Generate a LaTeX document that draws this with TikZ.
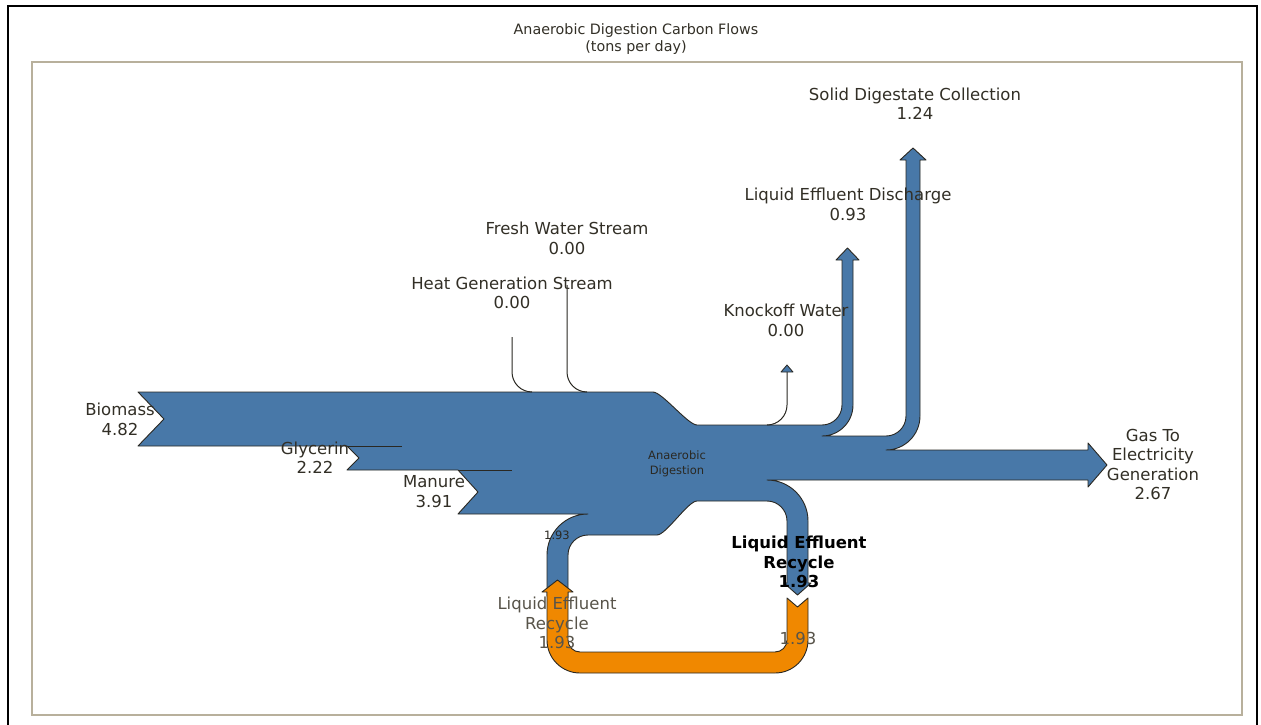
\documentclass[tikz,border=0pt]{standalone}
\usepackage{fontspec}
\setmainfont{DejaVu Sans}
\definecolor{flowblue}{RGB}{72,120,168}
\definecolor{floworange}{RGB}{240,136,0}
\definecolor{edgegray}{RGB}{42,40,34}
\definecolor{labeltext}{RGB}{50,47,38}
\definecolor{fainttext}{RGB}{88,84,74}
\definecolor{axframe}{RGB}{184,176,156}
\tikzset{
  flow/.style={fill=flowblue,draw=edgegray,line width=0.9pt,line join=round},
  loopflow/.style={fill=floworange,draw=edgegray,line width=0.9pt,line join=round},
  zeroflow/.style={draw=edgegray,line width=1pt},
  lbl/.style={align=center,text=labeltext,inner sep=0pt,
    font=\fontsize{16.5}{19.5}\selectfont},
  faintlbl/.style={lbl,text=fainttext},
  boldlbl/.style={lbl,text=black,font=\fontsize{16.5}{19.5}\selectfont\bfseries},
  smalllbl/.style={align=center,text=edgegray,inner sep=0pt,
    font=\fontsize{11.5}{15}\selectfont},
  titlelbl/.style={align=center,text=labeltext,inner sep=0pt,
    font=\fontsize{14.3}{17}\selectfont}
}
\begin{document}
\begin{tikzpicture}[x=1pt,y=-1pt]
  % Canvas and frames
  \useasboundingbox (0,0) rectangle (1261,725);
  \fill[white] (0,0) rectangle (1261,725);
  \draw[line width=2pt,black] (8,740) -- (8,6) -- (1257,6) -- (1257,740);
  \draw[axframe,line width=1.5pt] (32,62) rectangle (1242,715);
  %
  % Title
  \node[titlelbl] (title) at (636,39.5)
    {Anaerobic Digestion Carbon Flows\\(tons per day)};
  %
  % Digester trunk with all its flows
  \draw[flow] (138,392) -- (653,392)
    .. controls (662,392) and (688,425) .. (697,425)
    -- (822,425) arc[start angle=90,end angle=0,radius=20]
    -- (842,260) -- (836,260) -- (847.5,248) -- (859,260) -- (853,260)
    -- (853,405) arc[start angle=0,end angle=90,radius=31]
    -- (886,436) arc[start angle=90,end angle=0,radius=20]
    -- (906,160) -- (900,160) -- (913,148) -- (926,160) -- (920,160)
    -- (920,416) arc[start angle=0,end angle=90,radius=34]
    -- (1088,450) -- (1088,443) -- (1107,465) -- (1088,487) -- (1088,480)
    -- (767,480) arc[start angle=270,end angle=360,radius=41]
    -- (808,583) -- (811,583) -- (797.5,595) -- (784,583) -- (787,583)
    -- (787,521) arc[start angle=0,end angle=-90,radius=20]
    -- (697,501) .. controls (688,501) and (666,535) .. (657,535)
    -- (588,535) arc[start angle=270,end angle=180,radius=20]
    -- (568,596) -- (557.5,584) -- (547,596)
    -- (547,555) arc[start angle=180,end angle=270,radius=41]
    -- (458,514) -- (478,492) -- (458,470)
    -- (347,470) -- (359,458) -- (347,446)
    -- (138,446) -- (164,419) -- cycle;
  \draw[zeroflow] (347,446) -- (402,446);
  \draw[zeroflow] (458,470) -- (512,470);
  %
  % Zero flows
  \draw[zeroflow] (512,337) -- (512,372) arc[start angle=180,end angle=90,radius=20];
  \draw[zeroflow] (567,285) -- (567,372) arc[start angle=180,end angle=90,radius=20];
  \draw[zeroflow] (767,425) arc[start angle=90,end angle=0,radius=20] -- (787,372);
  \draw[flow,line width=0.8pt] (781,372) -- (787,365) -- (793,372) -- cycle;
  %
  % Recycle loop
  \draw[loopflow] (787,598) -- (797.5,607) -- (808,598)
    -- (808,640) arc[start angle=0,end angle=90,radius=33]
    -- (580,673) arc[start angle=90,end angle=180,radius=33]
    -- (547,592) -- (542,592) -- (557.5,580) -- (573,592) -- (568,592)
    -- (568,640) arc[start angle=180,end angle=90,radius=12]
    -- (775,652) arc[start angle=90,end angle=0,radius=12] -- cycle;
  %
  % Labels
  \node[lbl] (biomass) at (120,419.5) {Biomass\\4.82};
  \node[lbl] (glycerin) at (315,457.5) {Glycerin\\2.22};
  \node[lbl] (manure) at (434,491.5) {Manure\\3.91};
  \node[lbl] (heat) at (512,293) {Heat Generation Stream\\0.00};
  \node[lbl] (fresh) at (567,238.5) {Fresh Water Stream\\0.00};
  \node[lbl] (knockoff) at (786,320.5) {Knockoff Water\\0.00};
  \node[lbl] (discharge) at (848,204.5) {Liquid Effluent Discharge\\0.93};
  \node[lbl] (solid) at (915,103.5) {Solid Digestate Collection\\1.24};
  \node[lbl] (gas) at (1153,464.5) {Gas To\\Electricity\\Generation\\2.67};
  \node[smalllbl] (digester) at (677,463.5) {Anaerobic\\Digestion};
  \node[smalllbl] (recyclein) at (557,535) {1.93};
  \node[boldlbl] (recycleout) at (799,562) {Liquid Effluent\\Recycle\\1.93};
  \node[faintlbl] (loopend) at (557,623) {Liquid Effluent\\Recycle\\1.93};
  \node[faintlbl] (loopstart) at (798,638) {1.93};
\end{tikzpicture}
\end{document}
